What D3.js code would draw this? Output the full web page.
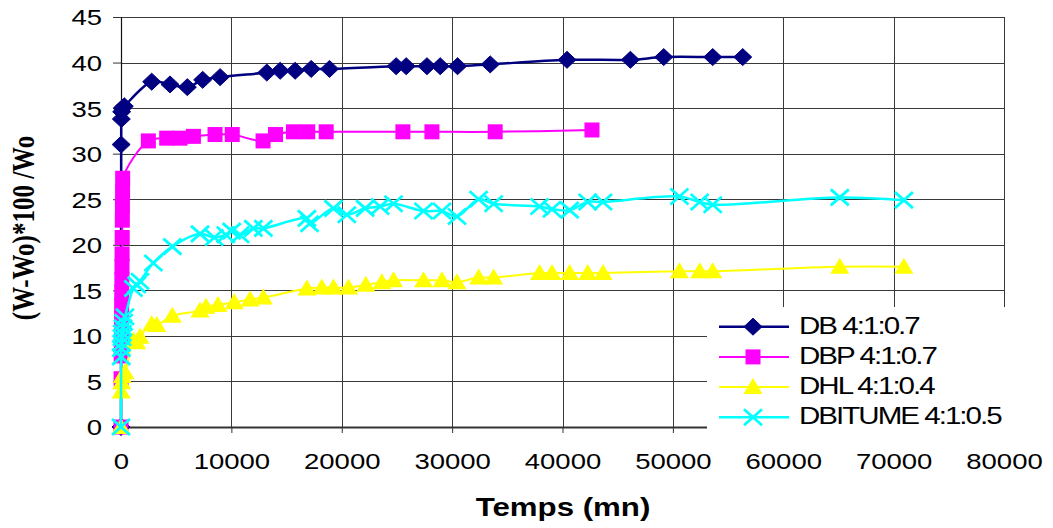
<!DOCTYPE html>
<html>
<head>
<meta charset="utf-8">
<script src="https://cdn.jsdelivr.net/npm/d3@7"></script>
<style>
  html, body { margin: 0; padding: 0; background: #fff; }
  svg { display: block; }
</style>
</head>
<body>
<svg id="chart" width="1053" height="528"></svg>
<script>
// ---- data: [time (mn), (W-Wo)*100/Wo] ----
const seriesNames = ["DB 4:1:0.7", "DBP 4:1:0.7", "DHL 4:1:0.4", "DBITUME 4:1:0.5"];

const dbPoints = [
  [0, 0], [15, 31.0], [30, 33.8], [60, 34.6], [120, 35.0], [300, 35.2],
  [2780, 37.9], [4440, 37.6], [6010, 37.3], [7400, 38.1], [8980, 38.4],
  [13210, 38.9], [14420, 39.1], [15780, 39.1], [17230, 39.3], [18890, 39.3],
  [24930, 39.6], [25840, 39.6], [27720, 39.6], [28920, 39.6], [30490, 39.6],
  [33450, 39.8], [40410, 40.3], [46150, 40.3], [49170, 40.6], [53610, 40.6],
  [56330, 40.6]
];

const dbpPoints = [
  [0, 0], [10, 5.3], [20, 7.8], [30, 9.2], [40, 10.6], [50, 12.0], [60, 13.4],
  [70, 14.8], [80, 16.2], [90, 17.6], [100, 19.0], [110, 20.8], [120, 22.7],
  [130, 24.3], [140, 25.8], [150, 27.3],
  [2480, 31.4], [4140, 31.7], [5350, 31.7], [6560, 31.9], [8520, 32.1],
  [10080, 32.1], [12870, 31.4], [14000, 32.1], [15620, 32.4], [16920, 32.4],
  [18590, 32.4], [25540, 32.4], [28170, 32.4], [33900, 32.4], [42670, 32.6]
];

const dhlPoints = [
  [0, 0], [20, 3.9], [60, 4.9], [120, 5.6], [360, 6.0], [1120, 9.5], [1420, 9.3],
  [1720, 9.9], [2780, 11.3], [3240, 11.2], [4650, 12.2], [7160, 12.8],
  [7700, 13.2], [8780, 13.4], [10260, 13.7], [11700, 14.0], [12900, 14.2],
  [16840, 15.2], [18190, 15.3], [19250, 15.3], [20610, 15.3], [22180, 15.6],
  [23630, 15.9], [24690, 16.1], [27410, 16.1], [29080, 16.1], [30440, 15.9],
  [32400, 16.4], [33760, 16.4], [37920, 16.9], [39050, 16.9], [40650, 16.9],
  [42280, 16.9], [43670, 16.9], [50590, 17.1], [52430, 17.1], [53610, 17.1],
  [65120, 17.6], [70930, 17.6]
];

const bitumePoints = [
  [0, 0], [20, 7.7], [40, 8.6], [60, 9.2], [90, 9.8], [120, 10.3], [180, 10.9],
  [240, 11.5], [360, 12.1], [1120, 15.2], [1420, 15.6], [1720, 16.0],
  [2930, 18.0], [4650, 19.8], [7160, 21.2], [8450, 20.8], [9500, 21.1],
  [10030, 21.5], [10790, 21.1], [11990, 21.8], [12900, 21.8], [16840, 22.9],
  [17080, 22.3], [19250, 24.0], [20460, 23.3], [22120, 24.0], [23480, 24.2],
  [24690, 24.5], [27410, 23.7], [29080, 23.7], [30440, 23.1], [32400, 25.0],
  [33760, 24.5], [37920, 24.2], [39050, 23.9], [40650, 23.8], [42280, 24.7],
  [43670, 24.7], [50590, 25.3], [52430, 24.7], [53610, 24.4], [65120, 25.2],
  [70930, 24.9]
];

const xTicks = [0, 10000, 20000, 30000, 40000, 50000, 60000, 70000, 80000];
const yTicks = [0, 5, 10, 15, 20, 25, 30, 35, 40, 45];
const xTitle = "Temps (mn)";
const yTitle = "(W-Wo)*100 /Wo";

// ---- layout ----
const svg = d3.select("#chart");
const plot = { left: 121, right: 1004, top: 17, bottom: 427 };
const STRETCH = 1.25; // horizontal text stretch

const x = d3.scaleLinear().domain([0, 80000]).range([plot.left, plot.right]);
const y = d3.scaleLinear().domain([0, 45]).range([plot.bottom, plot.top]);

const series = [
  { name: seriesNames[0], points: dbPoints, color: "#000080", marker: "diamond", width: 2.5 },
  { name: seriesNames[1], points: dbpPoints, color: "#FF00FF", marker: "square", width: 2 },
  { name: seriesNames[2], points: dhlPoints, color: "#FFFF00", marker: "triangle", width: 2 },
  { name: seriesNames[3], points: bitumePoints, color: "#00FFFF", marker: "cross", width: 2.5 }
];

// ---- gridlines ----
const grid = svg.append("g").attr("stroke", "#3a3a3a").attr("stroke-width", 1);
grid.selectAll("line.h").data(yTicks.filter(v => v > 0)).join("line")
  .attr("x1", plot.left).attr("x2", plot.right)
  .attr("y1", d => Math.round(y(d)) + 0.5).attr("y2", d => Math.round(y(d)) + 0.5);
grid.selectAll("line.v").data(xTicks.filter(v => v > 0)).join("line")
  .attr("y1", plot.top).attr("y2", plot.bottom)
  .attr("x1", d => Math.round(x(d)) + 0.5).attr("x2", d => Math.round(x(d)) + 0.5);

// ---- axes ----
const yAxis = svg.append("g")
  .attr("transform", `translate(${plot.left},0)`)
  .call(d3.axisLeft(y).tickValues(yTicks).tickSize(8).tickSizeOuter(0));
yAxis.select(".domain").attr("stroke", "#111").attr("stroke-width", 1.2);
yAxis.selectAll(".tick line").attr("stroke", "#333");
yAxis.selectAll(".tick text")
  .attr("x", -19 / STRETCH).attr("dy", "0.36em")
  .attr("transform", `scale(${STRETCH},1)`)
  .attr("font-family", "'Liberation Sans', Arial, sans-serif")
  .attr("font-size", 22).attr("fill", "#000");

const xAxis = svg.append("g")
  .attr("transform", `translate(0,${plot.bottom})`)
  .call(d3.axisBottom(x).tickValues(xTicks).tickFormat(d3.format("d")).tickSize(6).tickSizeOuter(0));
xAxis.select(".domain").attr("stroke", "#333").attr("stroke-width", 1.8);
xAxis.selectAll(".tick line").attr("stroke", "#333");
xAxis.selectAll(".tick text")
  .attr("y", 42).attr("dy", 0)
  .attr("transform", `scale(${STRETCH},1)`)
  .attr("font-family", "'Liberation Sans', Arial, sans-serif")
  .attr("font-size", 22).attr("fill", "#000");

// ---- markers ----
function drawMarker(g, type, color, cx, cy) {
  if (type === "diamond") {
    g.append("path").attr("d", `M${cx},${cy - 8.5}L${cx + 9},${cy}L${cx},${cy + 8.5}L${cx - 9},${cy}Z`)
      .attr("fill", color).attr("stroke", color).attr("stroke-width", 1);
  } else if (type === "square") {
    g.append("rect").attr("x", cx - 7.5).attr("y", cy - 7.5).attr("width", 15).attr("height", 15)
      .attr("fill", color);
  } else if (type === "triangle") {
    g.append("path").attr("d", `M${cx},${cy - 9}L${cx + 9.5},${cy + 7}L${cx - 9.5},${cy + 7}Z`)
      .attr("fill", color);
  } else {
    g.append("path").attr("d", `M${cx - 9},${cy - 8}L${cx + 9},${cy + 8}M${cx - 9},${cy + 8}L${cx + 9},${cy - 8}`)
      .attr("stroke", color).attr("stroke-width", 2.8).attr("fill", "none");
  }
}

// ---- series ----
const line = d3.line()
  .x(d => x(d[0])).y(d => y(d[1]))
  .curve(d3.curveCatmullRom.alpha(0.5));

series.forEach(s => {
  const g = svg.append("g");
  g.append("path").datum(s.points)
    .attr("d", line).attr("fill", "none")
    .attr("stroke", s.color).attr("stroke-width", s.width);
  s.points.forEach(p => drawMarker(g, s.marker, s.color, x(p[0]), y(p[1])));
});

// ---- legend ----
const legend = svg.append("g");
legend.append("rect").attr("x", 707).attr("y", 307).attr("width", 346).attr("height", 136).attr("fill", "#fff");
const rowY = d3.scalePoint().domain(seriesNames).range([326.7, 417.3]);
series.forEach(s => {
  const cy = rowY(s.name);
  legend.append("line").attr("x1", 719).attr("x2", 789).attr("y1", cy).attr("y2", cy)
    .attr("stroke", s.color).attr("stroke-width", s.width);
  drawMarker(legend, s.marker, s.color, 753, cy);
  legend.append("g").attr("transform", `translate(799,${cy + 7}) scale(${STRETCH - 0.02},1)`)
    .append("text")
    .attr("font-family", "'Liberation Sans', Arial, sans-serif")
    .attr("font-size", 24).attr("letter-spacing", -1.6).attr("fill", "#000")
    .text(s.name);
});

// ---- axis titles ----
svg.append("g").attr("transform", `translate(563,516) scale(${STRETCH},1)`)
  .append("text").attr("text-anchor", "middle")
  .attr("font-family", "'Liberation Sans', Arial, sans-serif")
  .attr("font-weight", "bold").attr("font-size", 25).attr("fill", "#000")
  .text(xTitle);

svg.append("g").attr("transform", `translate(34,228) rotate(-90) scale(1,${STRETCH})`)
  .append("text").attr("text-anchor", "middle")
  .attr("font-family", "'Liberation Serif', 'Times New Roman', serif")
  .attr("font-weight", "bold").attr("font-size", 25).attr("fill", "#000")
  .text(yTitle);
</script>
</body>
</html>
